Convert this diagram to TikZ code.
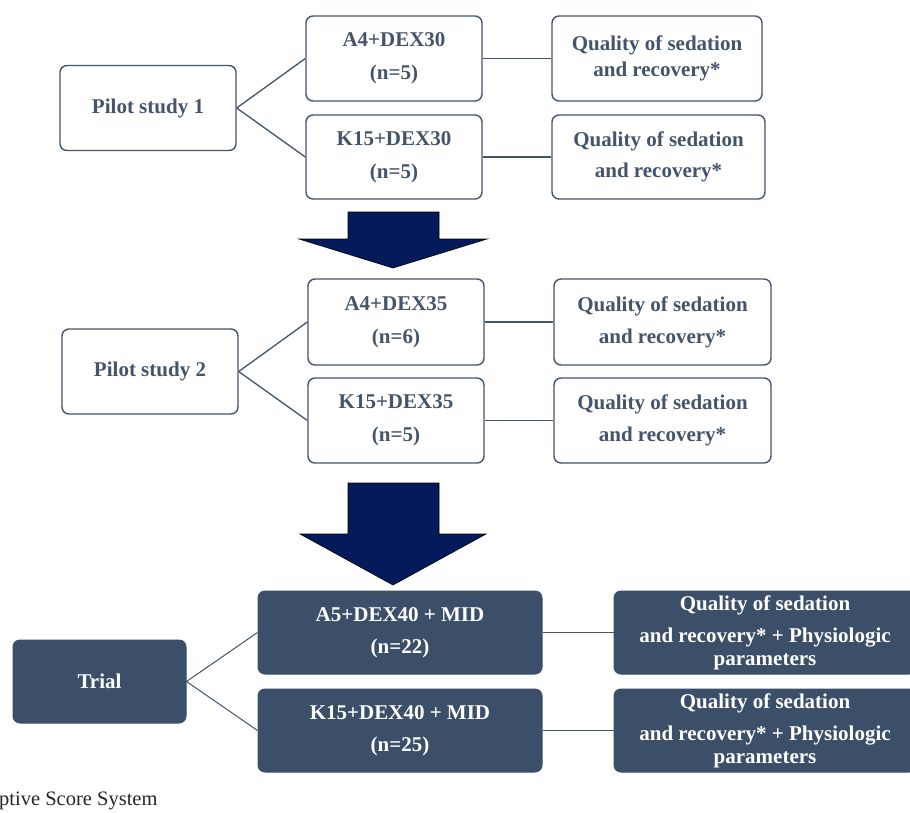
\documentclass[tikz,border=0pt]{standalone}
\usepackage{fontspec}
\setmainfont{Liberation Serif}
\definecolor{slate}{RGB}{68,84,106}
\definecolor{boxfill}{RGB}{59,79,104}
\definecolor{navyarrow}{RGB}{4,26,90}
\tikzset{
  openbox/.style={draw=slate, line width=1.4pt, rounded corners=7pt, fill=white,
    text=slate, font=\fontsize{21}{25}\selectfont\bfseries, align=center, inner sep=0pt},
  fullbox/.style={draw=boxfill, line width=1pt, rounded corners=7pt, fill=boxfill,
    text=white, font=\fontsize{21}{25}\selectfont\bfseries, align=center, inner sep=0pt},
  link/.style={draw=slate, line width=1.3pt},
  bigarrow/.style={draw=black, line width=0.6pt, fill=navyarrow}
}
\begin{document}
\begin{tikzpicture}[x=1pt,y=-1pt]
\clip (0,0) rectangle (910,812);
\fill[white] (0,0) rectangle (910,812);

% Pilot study 1
\node[openbox, minimum width=176pt, minimum height=85pt] (p1) at (148,108) {Pilot study 1};
\node[openbox, minimum width=176pt, minimum height=85pt] (a430) at (394,58.5) {A4+DEX30\\[8pt](n=5)};
\node[openbox, minimum width=176pt, minimum height=84pt] (k1530) at (394,157) {K15+DEX30\\[8pt](n=5)};
\node[openbox, minimum width=210pt, minimum height=85pt] (q1) at (657,58.5) {Quality of sedation\\[1pt]and recovery*};
\node[openbox, minimum width=213pt, minimum height=84pt] (q2) at (658.5,157) {Quality of sedation\\[6pt]and recovery*};
\draw[link] (p1.east) -- (a430.west);
\draw[link] (p1.east) -- (k1530.west);
\draw[link] (a430.east) -- (q1.west);
\draw[link] (k1530.east) -- (q2.west);

% arrow 1
\draw[bigarrow] (348,212) -- (439,212) -- (439,239) -- (487,239) -- (393,268) -- (299,239) -- (348,239) -- cycle;

% Pilot study 2
\node[openbox, minimum width=176pt, minimum height=85pt] (p2) at (150,371.5) {Pilot study 2};
\node[openbox, minimum width=176pt, minimum height=86pt] (a435) at (396,322) {A4+DEX35\\[8pt](n=6)};
\node[openbox, minimum width=176pt, minimum height=85pt] (k1535) at (396,420.5) {K15+DEX35\\[8pt](n=5)};
\node[openbox, minimum width=217pt, minimum height=86pt] (q3) at (662.5,322) {Quality of sedation\\[7pt]and recovery*};
\node[openbox, minimum width=217pt, minimum height=85pt] (q4) at (662.5,420.5) {Quality of sedation\\[7pt]and recovery*};
\draw[link] (p2.east) -- (a435.west);
\draw[link] (p2.east) -- (k1535.west);
\draw[link] (a435.east) -- (q3.west);
\draw[link] (k1535.east) -- (q4.west);

% arrow 2
\draw[bigarrow] (348,483) -- (439,483) -- (439,534) -- (486,534) -- (393,585) -- (300,534) -- (348,534) -- cycle;

% Trial
\node[fullbox, minimum width=173pt, minimum height=83pt] (trial) at (99.5,681.5) {Trial};
\node[fullbox, minimum width=284pt, minimum height=83pt] (a5) at (400,632.5) {A5+DEX40 + MID\\[7pt](n=22)};
\node[fullbox, minimum width=284pt, minimum height=83pt] (k15) at (400,730.5) {K15+DEX40 + MID\\[7pt](n=25)};
\node[fullbox, minimum width=302pt, minimum height=83pt] (q5) at (765,632.5) {Quality of sedation\\[7pt]and recovery* + Physiologic\\[-2pt]parameters};
\node[fullbox, minimum width=302pt, minimum height=83pt] (q6) at (765,730.5) {Quality of sedation\\[7pt]and recovery* + Physiologic\\[-2pt]parameters};
\draw[link, line width=1pt] (trial.east) -- (a5.west);
\draw[link, line width=1pt] (trial.east) -- (k15.west);
\draw[link, line width=1pt] (a5.east) -- (q5.west);
\draw[link, line width=1pt] (k15.east) -- (q6.west);

% caption fragment
\node[anchor=west, inner sep=0pt, text=black!85, font=\fontsize{20.5}{24}\selectfont] (cap) at (-1,801) {ptive Score System};
\end{tikzpicture}
\end{document}
